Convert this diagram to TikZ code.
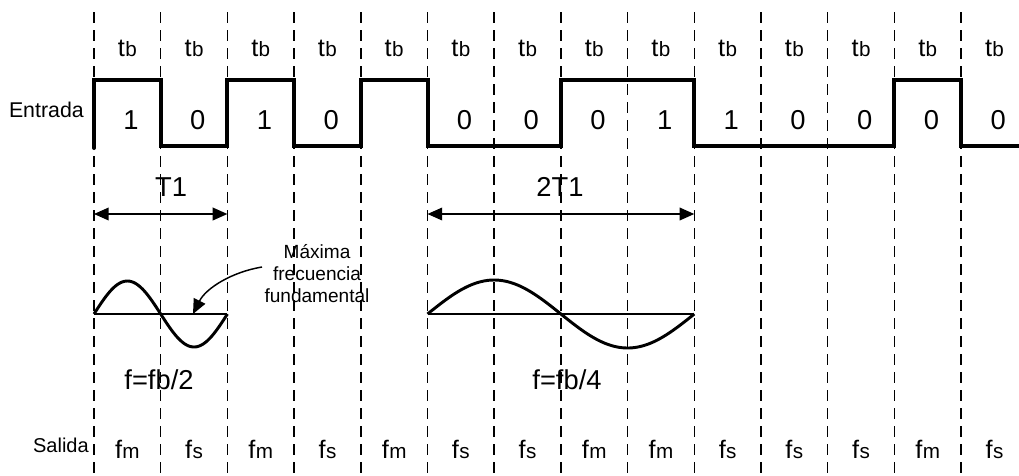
\documentclass[tikz,border=0pt]{standalone}
\usepackage{fontspec}
\setmainfont{Liberation Sans}
\usetikzlibrary{arrows.meta}
\begin{document}
\begin{tikzpicture}[x=0.75pt,y=-0.75pt,
  grid/.style={line width=1.1pt, dash pattern=on 8pt off 5.5pt},
  sig/.style={line width=3pt, line join=miter},
  wave/.style={line width=2.2pt},
  dimarrow/.style={line width=1.1pt, {Triangle[length=11pt,width=9.5pt]}-{Triangle[length=11pt,width=9.5pt]}},
  big/.style={font=\fontsize{20.5}{24}\selectfont, anchor=base, inner sep=0pt},
  lbl/.style={font=\fontsize{16}{18}\selectfont, anchor=base, inner sep=0pt},
  tbl/.style={font=\fontsize{19}{22}\selectfont, anchor=base, inner sep=0pt},
  note/.style={font=\fontsize{14.3}{16.5}\selectfont, align=center, inner sep=0pt}
]
\useasboundingbox (0,0) rectangle (1019,475);
% dashed grid
\foreach \i in {0,...,13}{
  \draw[grid] ({94+66.7*\i},12) -- ({94+66.7*\i},475);
}
% top labels tb
\foreach \i in {0,...,13}{
  \node[tbl] (tb\i) at ({127.35+66.7*\i},56) {t\kern0.3pt{\fontsize{15.5}{16}\selectfont b}};
}
% bits
\foreach \i/\b in {0/1,1/0,2/1,3/0,5/0,6/0,7/0,8/1,9/1,10/0,11/0,12/0,13/0}{
  \node[big] (bit\i) at ({131+66.7*\i},129) {\b};
}
% output labels
\foreach \i/\s in {0/m,1/s,2/m,3/s,4/m,5/s,6/s,7/m,8/m,9/s,10/s,11/s,12/m,13/s}{
  \node[tbl] (out\i) at ({127.35+66.7*\i},458) {f\kern0.3pt{\fontsize{15.5}{16}\selectfont \s}};
}
\node[lbl, anchor=base east] (entrada) at (84,117) {Entrada};
\node[lbl, anchor=base east, font=\fontsize{15}{18}\selectfont] (salida) at (89,452) {Salida};
% input signal
\draw[sig] (94,148) -- (94,80) -- (160.7,80) -- (160.7,146) -- (227.4,146) -- (227.4,80)
  -- (294.1,80) -- (294.1,146) -- (360.8,146) -- (360.8,80) -- (427.5,80) -- (427.5,146)
  -- (560.9,146) -- (560.9,80) -- (694.3,80) -- (694.3,146) -- (894.4,146) -- (894.4,80)
  -- (961.1,80) -- (961.1,146) -- (1019,146);
\draw[sig, line cap=round] (94,146) -- (94,148);
% period arrows
\coordinate (a1) at (94,214);
\coordinate (b1) at (227.4,214);
\coordinate (a2) at (427.5,214);
\coordinate (b2) at (694.3,214);
\draw[dimarrow] (a1) -- (b1);
\draw[dimarrow] (a2) -- (b2);
\node[big] (T1) at (171,196) {T1};
\node[big] (T2) at (560,196) {2T1};
% sine waves
\draw[wave] (94,314) -- (227.4,314);
\draw[wave] plot[domain=0:360, samples=80] ({94+\x*0.37056},{314-33*sin(\x)});
\draw[wave] (427.5,314) -- (694.3,314);
\draw[wave] plot[domain=0:360, samples=100] ({427.5+\x*0.74111},{314-34*sin(\x)});
% annotation
\node[note] (nota) at (317,274) {Máxima\\frecuencia\\fundamental};
\coordinate (ns) at (262,267);
\coordinate (nt) at (193,314);
\draw[line width=1.1pt, -{Triangle[length=11pt,width=9.5pt]}] (ns) .. controls (232,272) and (206,288) .. (nt);
% frequency labels
\node[big] (f1) at (159,389) {f=fb/2};
\node[big] (f2) at (567,389) {f=fb/4};
\end{tikzpicture}
\end{document}
